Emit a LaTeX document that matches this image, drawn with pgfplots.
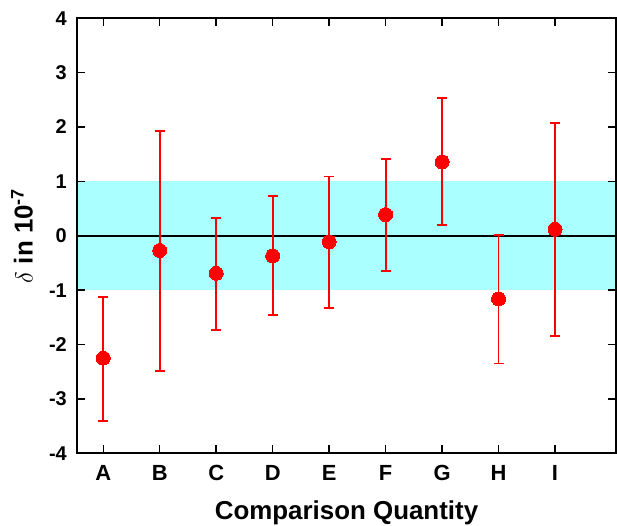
\documentclass[border=0pt]{standalone}
\usepackage{pgfplots}
\pgfplotsset{compat=1.18}
\usepackage{fontspec}
\setmainfont{Liberation Sans}
\definecolor{bandcyan}{HTML}{AAFFFF}
\begin{document}
\begin{tikzpicture}
\begin{axis}[
  scale only axis,
  width=539bp, height=435bp,
  xmin=0.535, xmax=10.08,
  ymin=-4, ymax=4,
  xtick={1,2,3,4,5,6,7,8,9},
  xticklabels={A,B,C,D,E,F,G,H,I},
  ytick={-4,-3,-2,-1,0,1,2,3,4},
  tick align=inside,
  major tick length=8bp,
  minor tick num=0,
  axis line style={line width=1.6bp},
  every tick/.style={black, line width=1.4bp},
  axis on top,
  /pgf/number format/assume math mode=true,
  ticklabel style={font=\fontsize{20}{24}\selectfont\bfseries, inner sep=0pt},
  xticklabel style={anchor=north, yshift=-12bp, font=\fontsize{22}{26}\selectfont\bfseries},
  yticklabel style={anchor=east, xshift=-10bp},
  xlabel={\textbf{Comparison Quantity}},
  ylabel={$\delta$\textbf{ in 10}\textsuperscript{\textbf{-7}}},
  label style={font=\fontsize{26}{30}\selectfont\bfseries, inner sep=0pt},
  xlabel style={at={(axis description cs:0.5,0)}, anchor=north, yshift=-47bp},
  ylabel style={at={([xshift=-44bp]axis description cs:0,0.5)}, anchor=south, rotate=0},
  clip=true,
]
\coordinate (sw) at (rel axis cs:0,0);
\coordinate (ne) at (rel axis cs:1,1);
\addplot[draw=none, fill=bandcyan] coordinates {(0.535,-1) (10.08,-1) (10.08,1) (0.535,1)} -- cycle;
\addplot[black, line width=2bp] coordinates {(0.535,0) (10.08,0)};
\addplot[red, line width=1.8bp, only marks, mark=*, mark size=7bp,
  mark options={fill=red, draw=red, line width=0pt},
  error bars/.cd, y dir=both, y explicit,
  error bar style={line width=1.8bp, red},
  error mark options={rotate=90, mark size=5bp, line width=1.8bp, red}]
  coordinates {
  (1,-2.25) += (0,1.13) -= (0,1.15)
  (2,-0.27) += (0,2.20) -= (0,2.22)
  (3,-0.69) += (0,1.02) -= (0,1.04)
  (4,-0.37) += (0,1.10) -= (0,1.09)
  (5,-0.11) += (0,1.20) -= (0,1.22)
  (6,0.39) += (0,1.02) -= (0,1.04)
  (7,1.36) += (0,1.17) -= (0,1.16)
  (8,-1.16) += (0,1.17) -= (0,1.19)
  (9,0.12) += (0,1.95) -= (0,1.96)
  };
\end{axis}
\pgfresetboundingbox
\path[use as bounding box] ([shift={(-77bp,-72.7bp)}]sw) rectangle ([shift={(1bp,18.3bp)}]ne);
\end{tikzpicture}
\end{document}
